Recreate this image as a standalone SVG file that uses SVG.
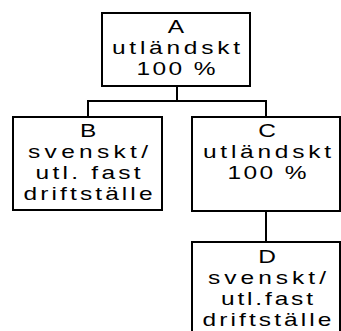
<svg xmlns="http://www.w3.org/2000/svg" width="341" height="331" viewBox="0 0 341 331">
<style>
.box{fill:#fff;stroke:#000;stroke-width:2}
.lbl{font-family:"Liberation Sans",Arial,sans-serif;font-size:17.5px;fill:#000;text-anchor:middle}
.con{fill:none;stroke:#000;stroke-width:2}
</style>
<rect width="341" height="331" fill="#fff"/>
<g id="connectors">
<path class="con" d="M177,86 V101 M88,101 H266 M88,100 V117 M266,100 V117 M266,211 V242"/>
</g>
<g id="nodeA">
<rect class="box" x="102" y="13" width="148" height="73"/>
<g transform="scale(1.4,1)">
<text class="lbl" x="125.7" y="33">A</text>
<text class="lbl" x="125.7" y="54" textLength="91.4">utländskt</text>
<text class="lbl" x="125.7" y="75" textLength="56.4">100 %</text>
</g>
</g>
<g id="nodeB">
<rect class="box" x="13" y="117" width="149" height="93"/>
<g transform="scale(1.4,1)">
<text class="lbl" x="62.9" y="137">B</text>
<text class="lbl" x="62.9" y="158" textLength="85.7">svenskt/</text>
<text class="lbl" x="62.9" y="179" textLength="75">utl. fast</text>
<text class="lbl" x="62.9" y="200" textLength="92.1">driftställe</text>
</g>
</g>
<g id="nodeC">
<rect class="box" x="192" y="117" width="148" height="94"/>
<g transform="scale(1.4,1)">
<text class="lbl" x="190.7" y="137">C</text>
<text class="lbl" x="190.7" y="158" textLength="91.4">utländskt</text>
<text class="lbl" x="190.7" y="179" textLength="56.4">100 %</text>
</g>
</g>
<g id="nodeD">
<rect class="box" x="192" y="242" width="148" height="95"/>
<g transform="scale(1.4,1)">
<text class="lbl" x="190.7" y="263">D</text>
<text class="lbl" x="190.7" y="284" textLength="84.3">svenskt/</text>
<text class="lbl" x="190.7" y="305" textLength="65.7">utl.fast</text>
<text class="lbl" x="190.7" y="326" textLength="92.1">driftställe</text>
</g>
</g>
</svg>
